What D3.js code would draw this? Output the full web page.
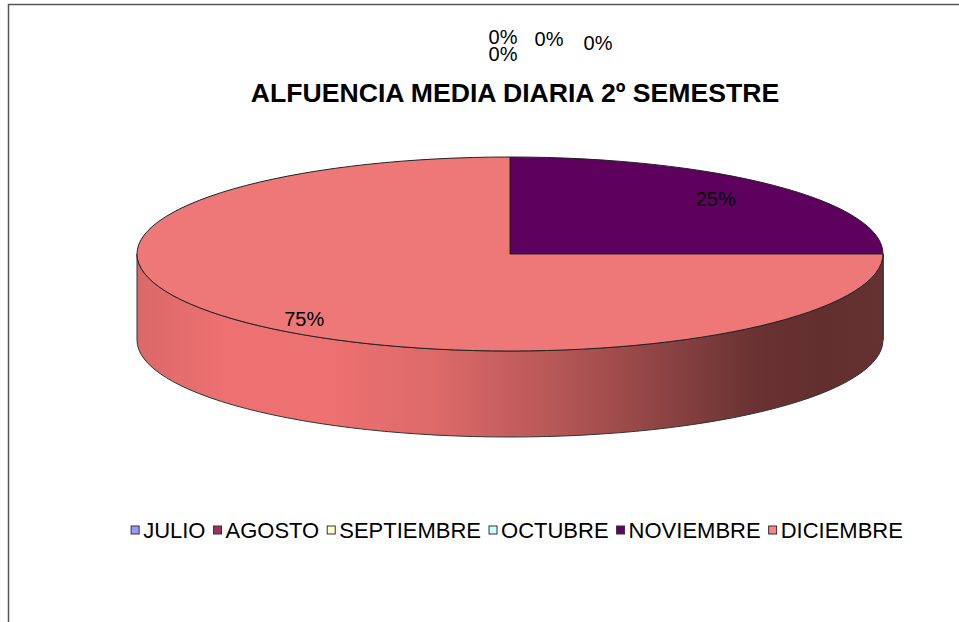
<!DOCTYPE html>
<html>
<head>
<meta charset="utf-8">
<script src="https://cdn.jsdelivr.net/npm/d3@7"></script>
<style>
  body { margin: 0; background: #fff; }
  text { font-family: "Liberation Sans", Arial, sans-serif; fill: #000; }
</style>
</head>
<body>
<div id="chart"></div>
<script>
// ========== Data ==========
const months = ["JULIO", "AGOSTO", "SEPTIEMBRE", "OCTUBRE", "NOVIEMBRE", "DICIEMBRE"];
const values = [0, 0, 0, 0, 25, 75];
const colors = ["#9999FF", "#993366", "#FFFFCC", "#CCFFFF", "#5E005E", "#EE7777"];
const legendColors = ["#9999FF", "#993366", "#FFFFCC", "#CCFFFF", "#660066", "#FF8080"];
const title = "ALFUENCIA MEDIA DIARIA 2º SEMESTRE";

// ========== Layout ==========
const width = 959;
const height = 622;
const cx = 510, cy = 254;
const rx = 373, ry = 97;
const depth = 86;

const svg = d3.select("#chart").append("svg")
  .attr("width", width)
  .attr("height", height);

// frame (left and top edges visible)
svg.append("path")
  .attr("d", `M8.5,${height} L8.5,4.5 L${width},4.5`)
  .attr("fill", "none")
  .attr("stroke", "#555")
  .attr("stroke-width", 1.5);

// title
svg.append("text")
  .attr("x", 515)
  .attr("y", 102)
  .attr("text-anchor", "middle")
  .style("font-weight", "bold")
  .style("font-size", "26.6px")
  .text(title);

// ========== Pie ==========
const data = months.map((m, i) => ({ month: m, value: values[i], color: colors[i] }));
const arcs = d3.pie().sort(null).value((d) => d.value)(data);

const pt = (a, dy = 0) => [cx + rx * Math.sin(a), cy - ry * Math.cos(a) + dy];

function topPath(a0, a1) {
  const p0 = pt(a0), p1 = pt(a1);
  const large = a1 - a0 > Math.PI ? 1 : 0;
  return `M${cx},${cy} L${p0} A${rx},${ry} 0 ${large} 1 ${p1} Z`;
}

function sidePath(a0, a1) {
  const p0 = pt(a0), p1 = pt(a1), q0 = pt(a0, depth), q1 = pt(a1, depth);
  const large = a1 - a0 > Math.PI ? 1 : 0;
  return `M${p0} A${rx},${ry} 0 ${large} 1 ${p1} L${q1} A${rx},${ry} 0 ${large} 0 ${q0} Z`;
}

// side shading
const defs = svg.append("defs");
const grad = defs.append("linearGradient")
  .attr("id", "side-shade")
  .attr("gradientUnits", "userSpaceOnUse")
  .attr("x1", cx - rx).attr("x2", cx + rx)
  .attr("y1", 0).attr("y2", 0);
[
  [0, 0.92], [0.12, 1.0], [0.25, 1.0], [0.4, 0.93], [0.55, 0.78],
  [0.7, 0.6], [0.82, 0.45], [0.92, 0.41], [1, 0.43]
].forEach(([o, k]) => {
  const c = d3.rgb("#EE7777");
  grad.append("stop")
    .attr("offset", o)
    .attr("stop-color", d3.rgb(c.r * k, c.g * k * 0.95, c.b * k * 0.95).formatHex());
});

// visible front sides (angles between PI/2 and 3PI/2)
arcs.forEach((d) => {
  const a0 = Math.max(d.startAngle, Math.PI / 2);
  const a1 = Math.min(d.endAngle, 3 * Math.PI / 2);
  if (a1 - a0 <= 0) return;
  svg.append("path")
    .attr("d", sidePath(a0, a1))
    .attr("fill", d.data.color === "#EE7777" ? "url(#side-shade)" : d3.rgb(d.data.color).darker(1))
    .attr("stroke", "#333")
    .attr("stroke-width", 1);
});

// top faces
arcs.forEach((d) => {
  if (d.endAngle - d.startAngle <= 0) return;
  svg.append("path")
    .attr("d", topPath(d.startAngle, d.endAngle))
    .attr("fill", d.data.color)
    .attr("stroke", "#222")
    .attr("stroke-width", 1);
});

// ========== Labels ==========
const fmt = d3.format(".0%");
const total = d3.sum(values);
const zeroOffsets = [[-7, -120], [-7, -103], [39, -118], [88, -114]];
let zi = 0;
arcs.forEach((d) => {
  const share = d.value / total;
  let x, y;
  if (share === 0) {
    const [bx, by] = pt(d.startAngle);
    const off = zeroOffsets[zi++ % zeroOffsets.length];
    x = bx + off[0];
    y = by + off[1];
  } else {
    const mid = (d.startAngle + d.endAngle) / 2;
    x = cx + rx * 0.78 * Math.sin(mid);
    y = cy - ry * 0.8 * Math.cos(mid) + (Math.cos(mid) < 0 ? 10 : 0);
  }
  svg.append("text")
    .attr("x", x)
    .attr("y", y)
    .attr("dy", "0.35em")
    .attr("text-anchor", "middle")
    .style("font-size", "20px")
    .text(fmt(share));
});

// ========== Legend ==========
const legend = svg.append("g");
let lx = 0;
months.forEach((m, i) => {
  const item = legend.append("g").attr("transform", `translate(${lx},0)`);
  item.append("rect")
    .attr("x", 0).attr("y", -4)
    .attr("width", 8).attr("height", 8)
    .attr("fill", legendColors[i])
    .attr("stroke", "#333")
    .attr("stroke-width", 1);
  const t = item.append("text")
    .attr("x", 12)
    .attr("y", 0)
    .attr("dy", "0.35em")
    .style("font-size", "22px")
    .text(m);
  lx += 12 + t.node().getComputedTextLength() + 8;
});
lx -= 8;
legend.attr("transform", `translate(${517 - lx / 2},530)`);
</script>
</body>
</html>
